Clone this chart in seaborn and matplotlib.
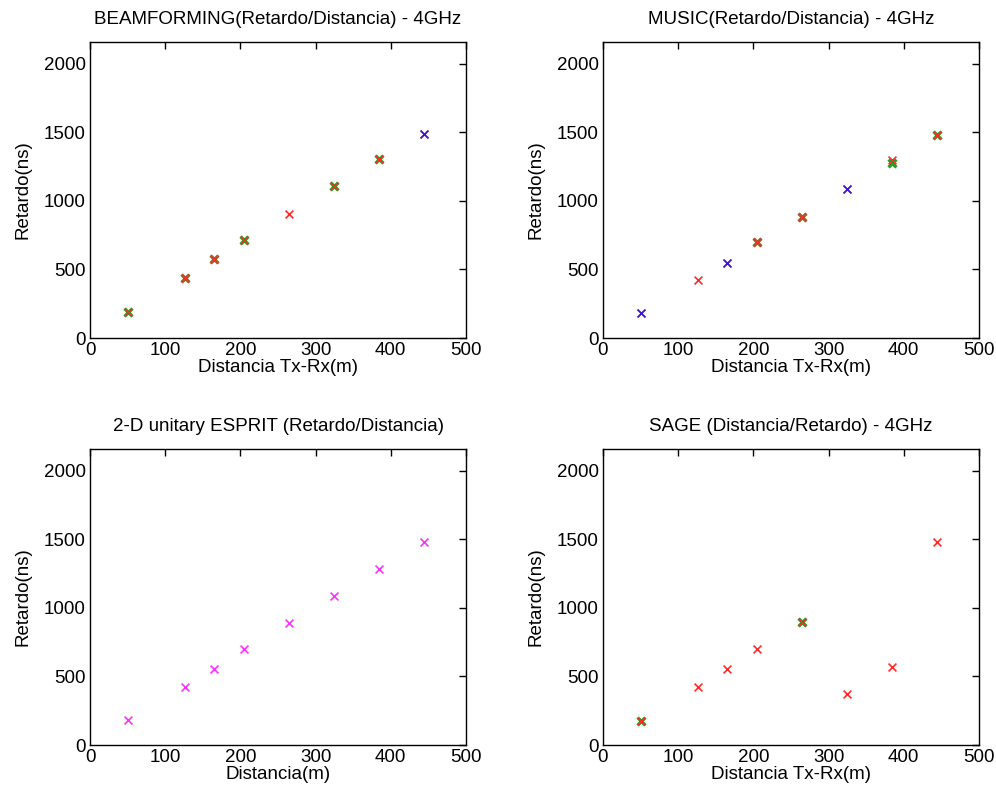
import matplotlib
matplotlib.use('Agg')
import matplotlib.pyplot as plt
import seaborn as sns

# ---- data ----
dist = [50, 126, 165, 205, 265, 324, 384, 444]

# BEAMFORMING
bf_red = [187, 438, 574, 715, 905, 1109, 1304, 1489]
bf_green_x = [50, 126, 165, 205, 324, 384]
bf_green_y = [187, 438, 574, 715, 1109, 1304]
bf_blue_x = [444]
bf_blue_y = [1489]

# MUSIC
mu_red = [180, 423, 550, 703, 885, 1085, 1300, 1480]
mu_green_x = [205, 265, 384, 444]
mu_green_y = [703, 885, 1276, 1480]
mu_blue_x = [50, 165, 324]
mu_blue_y = [180, 550, 1085]

# 2-D unitary ESPRIT
es_mag = [182, 426, 555, 699, 893, 1090, 1287, 1484]

# SAGE
sa_red = [177, 426, 555, 699, 900, 372, 569, 1484]
sa_green_x = [50, 265]
sa_green_y = [177, 900]

RED = '#ff2a2a'
GREEN = '#22a022'
BLUE = '#1010ff'
MAGENTA = '#ff30ff'

sns.set_theme(style='white')
plt.rcParams['font.family'] = ['Liberation Sans', 'DejaVu Sans']
plt.rcParams['text.color'] = 'black'
plt.rcParams['axes.labelcolor'] = 'black'

fig = plt.figure(figsize=(9.96, 7.99), dpi=100)
W, H = 996, 799
boxes = [(90, 42), (603, 42), (90, 449), (603, 449)]
axes = [fig.add_axes([l / W, 1 - (t + 296) / H, 376 / W, 296 / H]) for l, t in boxes]


def xs(ax, x, y, color, lw=1.2, alpha=1.0):
    sns.scatterplot(x=x, y=y, marker='x', color=color, s=32, linewidth=lw,
                    alpha=alpha, ax=ax, zorder=3)


xs(axes[0], bf_green_x, bf_green_y, GREEN, lw=2.4)
xs(axes[0], dist, bf_red, RED)
xs(axes[0], bf_blue_x, bf_blue_y, BLUE, alpha=0.8)

xs(axes[1], mu_green_x, mu_green_y, GREEN, lw=2.4)
xs(axes[1], dist, mu_red, RED)
xs(axes[1], mu_blue_x, mu_blue_y, BLUE, alpha=0.8)

xs(axes[2], dist, es_mag, MAGENTA)

xs(axes[3], sa_green_x, sa_green_y, GREEN, lw=2.4)
xs(axes[3], dist, sa_red, RED)

titles = ['BEAMFORMING(Retardo/Distancia) - 4GHz',
          'MUSIC(Retardo/Distancia) - 4GHz',
          '2-D unitary ESPRIT (Retardo/Distancia)',
          'SAGE (Distancia/Retardo) - 4GHz']
xlabels = ['Distancia Tx-Rx(m)', 'Distancia Tx-Rx(m)', 'Distancia(m)', 'Distancia Tx-Rx(m)']

for ax, t, xl in zip(axes, titles, xlabels):
    ax.set_xlim(0, 500)
    ax.set_ylim(0, 2160)
    ax.set_xticks(range(0, 501, 100))
    ax.set_yticks(range(0, 2001, 500))
    ax.tick_params(direction='in', length=5, width=1, top=True, right=True,
                   labelsize=13.5, colors='black', pad=3)
    for sp in ax.spines.values():
        sp.set_color('black')
        sp.set_linewidth(1)
    ax.set_title(t, fontsize=13.5, pad=13)
    ax.set_xlabel(xl, fontsize=13.5, labelpad=0)
    ax.set_ylabel('Retardo(ns)', fontsize=13.5, labelpad=9)

fig.savefig('out.png', dpi=100)
